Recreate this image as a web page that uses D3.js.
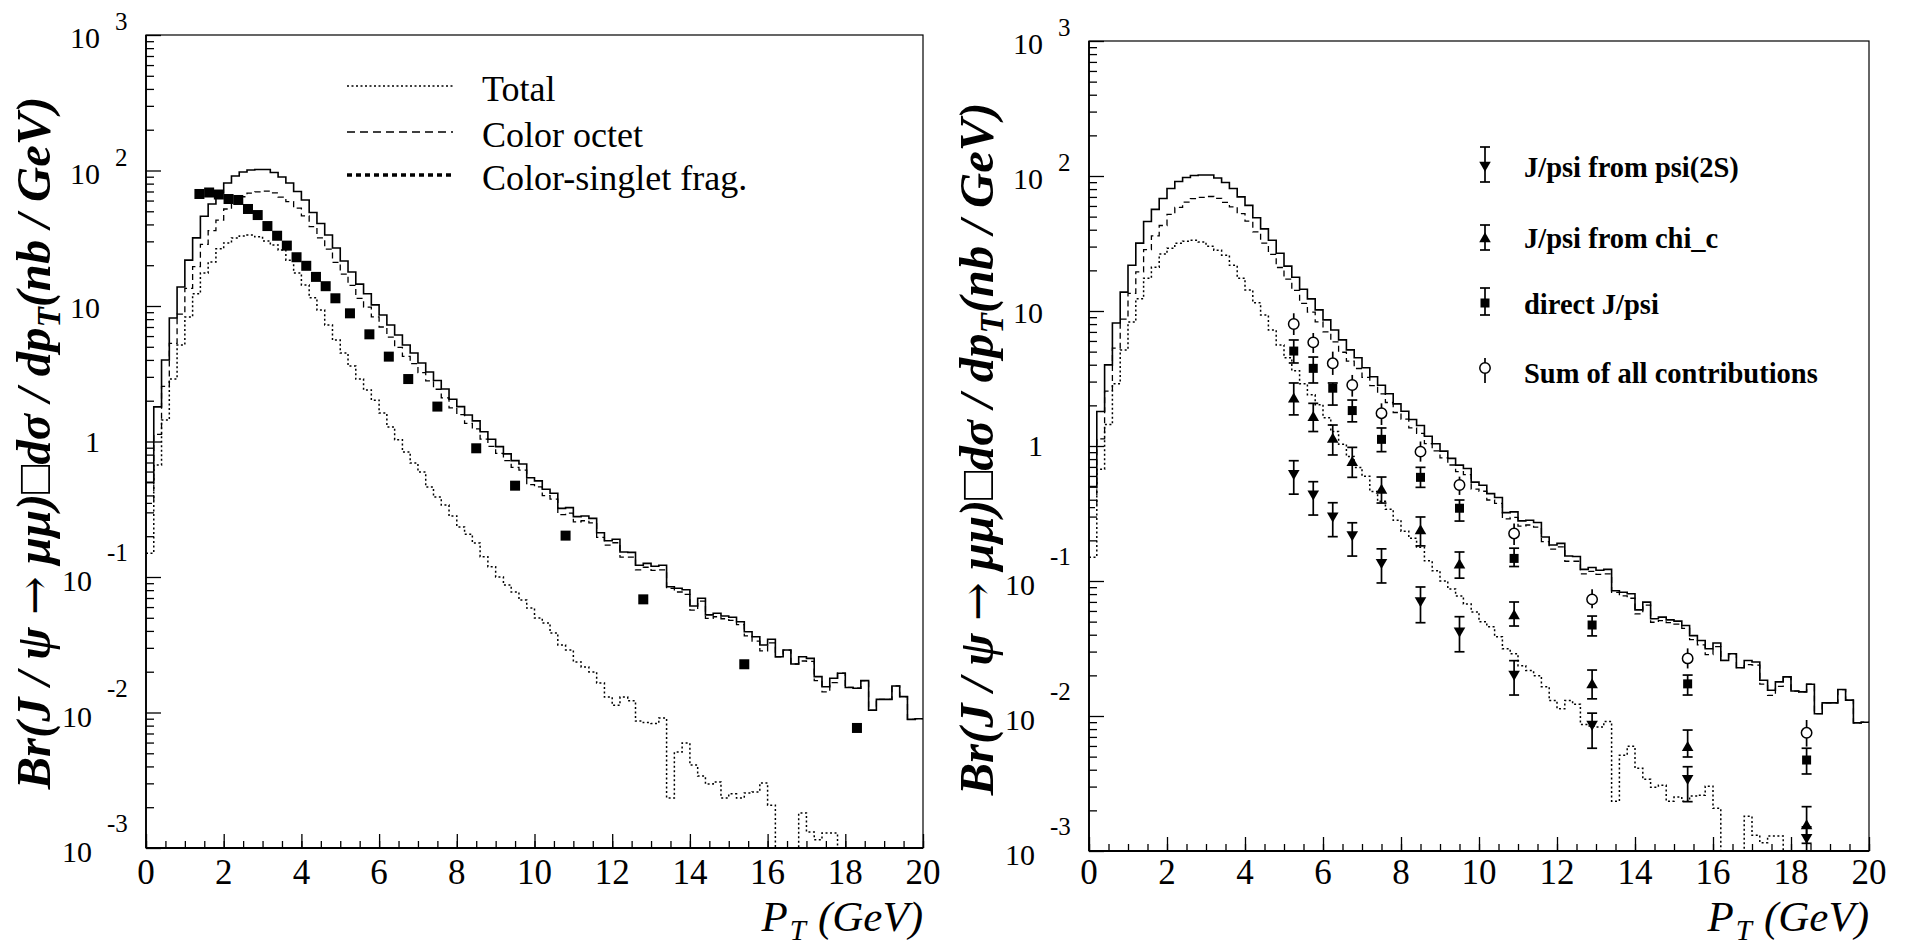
<!DOCTYPE html>
<html>
<head>
<meta charset="utf-8">
<script src="https://cdn.jsdelivr.net/npm/d3@7/dist/d3.min.js"></script>
<style>
  body { margin: 0; background: #fff; }
  text { font-family: "Liberation Serif", "Times New Roman", serif; fill: #000; }
</style>
</head>
<body>
<svg id="chart" width="1905" height="947"></svg>
<script>
// histogram bins: 100 bins of 0.2 GeV from 0 to 20
const binLo = d3.range(100).map(i => i * 0.2);

// solid histogram
const solidHist = [
  0.50, 1.80, 3.99, 8.15, 13.8, 21.8, 31.8, 46.0, 56.6, 68.2,
  80.9, 91.1, 97.5, 100.9, 101.8, 101.8, 96.6, 89.6, 80.9, 70.0,
  60.6, 49.0, 40.6, 33.4, 26.8, 21.5, 17.8, 14.5, 12.3, 10.2,
  8.59, 7.24, 6.11, 5.15, 4.50, 3.80, 3.26, 2.82, 2.44, 2.05,
  1.81, 1.57, 1.42, 1.18, 1.04, 0.916, 0.810, 0.722, 0.682, 0.540,
  0.512, 0.444, 0.415, 0.321, 0.325, 0.279, 0.282, 0.271, 0.212, 0.185,
  0.190, 0.153, 0.152, 0.122, 0.126, 0.120, 0.122, 0.0847, 0.0826, 0.0805,
  0.0611, 0.0697, 0.0525, 0.0540, 0.0515, 0.0504, 0.0468, 0.0394, 0.0362, 0.0315,
  0.0347, 0.0258, 0.0289, 0.0228, 0.0258, 0.0251, 0.0184, 0.0155, 0.0179, 0.0195,
  0.0153, 0.0151, 0.0172, 0.0104, 0.0125, 0.0125, 0.0157, 0.0131, 0.0089, 0.0090
];

// dashed histogram
const dashedHist = [
  0.35, 1.13, 2.55, 5.3, 8.7, 13.5, 19.5, 28.5, 36.0, 43.0,
  52.0, 58.5, 64.0, 68.0, 69.5, 70.5, 68.3, 63.7, 59.0, 52.7,
  46.3, 38.5, 31.8, 26.3, 21.0, 17.2, 14.2, 11.4, 9.8, 8.3,
  7.0, 5.9, 4.95, 4.25, 3.75, 3.22, 2.80, 2.43, 2.10, 1.77,
  1.58, 1.36, 1.24, 1.04, 0.92, 0.816, 0.723, 0.645, 0.614, 0.480,
  0.462, 0.398, 0.376, 0.289, 0.296, 0.255, 0.260, 0.251, 0.196, 0.172,
  0.179, 0.140, 0.140, 0.113, 0.118, 0.112, 0.113, 0.0824, 0.0775, 0.0745,
  0.0570, 0.0663, 0.0495, 0.0509, 0.0492, 0.0479, 0.0445, 0.0368, 0.0336, 0.0285,
  0.0326, 0.0258, 0.0289, 0.0228, 0.0240, 0.0238, 0.0172, 0.0142, 0.0166, 0.0195,
  0.0153, 0.0151, 0.0172, 0.0104, 0.0125, 0.0125, 0.0157, 0.0131, 0.0089, 0.0090
];

// dotted histogram (0 = empty bin)
const dottedHist = [
  0.150, 0.672, 1.44, 2.89, 5.15, 8.29, 12.3, 17.5, 21.1, 26.4,
  29.2, 31.8, 32.9, 33.4, 32.4, 30.2, 28.2, 25.9, 21.8, 17.5,
  14.3, 11.5, 9.34, 7.24, 5.61, 4.50, 3.61, 2.89, 2.40, 2.02,
  1.62, 1.28, 1.03, 0.837, 0.693, 0.596, 0.461, 0.389, 0.340, 0.282,
  0.234, 0.207, 0.178, 0.141, 0.119, 0.100, 0.0873, 0.0774, 0.0676, 0.0590,
  0.0498, 0.0458, 0.0386, 0.0315, 0.0289, 0.0236, 0.0217, 0.0199, 0.0165, 0.0130,
  0.0113, 0.0130, 0.0122, 0.00865, 0.00843, 0.0083, 0.0091, 0.00234, 0.00511, 0.00596,
  0.00410, 0.00340, 0.00297, 0.00307, 0.00234, 0.00251, 0.00234, 0.00255, 0.00259, 0.00302,
  0.00207, 0, 0, 0, 0.00181, 0.00131, 0.00115, 0.00129, 0.00129, 0,
  0, 0, 0, 0, 0, 0, 0, 0, 0, 0
];

// left panel: filled squares
const leftPtX = [1.375, 1.625, 1.875, 2.125, 2.375, 2.625, 2.875, 3.125, 3.375, 3.625,
  3.875, 4.125, 4.375, 4.625, 4.875, 5.25, 5.75, 6.25, 6.75, 7.5, 8.5, 9.5, 10.8, 12.8, 15.4, 18.3];
const leftPtY = [67.1, 68.8, 66.5, 61.6, 60.6, 52.0, 46.9, 38.9, 33.0, 27.9,
  22.9, 19.8, 16.4, 14.0, 11.4, 8.83, 6.18, 4.23, 2.89, 1.81, 0.891, 0.472, 0.202, 0.0684, 0.0227, 0.00769];

// right panel: points with error bars
const rightPtX = [5.25, 5.75, 6.25, 6.75, 7.5, 8.5, 9.5, 10.9, 12.9, 15.35, 18.4];
const psi2sY  = [0.616, 0.434, 0.299, 0.217, 0.135, 0.0703, 0.042, 0.0201, 0.00857, 0.0034, 0.00124];
const psi2sHi = [0.778, 0.544, 0.380, 0.270, 0.173, 0.0903, 0.0544, 0.0257, 0.0105, 0.00421, 0.00151];
const psi2sLo = [0.44, 0.308, 0.213, 0.153, 0.0967, 0.0491, 0.0299, 0.0143, 0.00577, 0.00232, 0.0009];
const chicY  = [2.26, 1.65, 1.14, 0.766, 0.477, 0.239, 0.133, 0.056, 0.0173, 0.00593, 0.00156];
const chicHi = [2.93, 2.07, 1.43, 0.977, 0.589, 0.298, 0.164, 0.0699, 0.0219, 0.00787, 0.00213];
const chicLo = [1.70, 1.28, 0.858, 0.586, 0.378, 0.182, 0.105, 0.0464, 0.0134, 0.00497, 0.00114];
const directY  = [5.05, 3.76, 2.68, 1.83, 1.12, 0.586, 0.346, 0.147, 0.0472, 0.0173, 0.00472];
const directHi = [6.10, 4.56, 2.93, 2.19, 1.36, 0.695, 0.398, 0.175, 0.055, 0.0201, 0.00577];
const directLo = [4.12, 2.93, 2.01, 1.51, 0.908, 0.494, 0.278, 0.128, 0.0392, 0.0143, 0.00372];
const sumY  = [8.01, 5.86, 4.10, 2.83, 1.75, 0.908, 0.514, 0.225, 0.0731, 0.0267, 0.00751];
const sumHi = [9.62, 6.87, 5.0, 3.36, 2.07, 1.08, 0.593, 0.267, 0.0868, 0.0317, 0.00934];
const sumLo = [6.64, 4.89, 3.36, 2.32, 1.43, 0.766, 0.434, 0.185, 0.0628, 0.0225, 0.00593];

// axes
const xMajor = [0, 2, 4, 6, 8, 10, 12, 14, 16, 18, 20];
const xMinor = d3.range(0, 20.01, 0.5);
const yDecades = [-3, -2, -1, 0, 1, 2, 3];

const leftLegend = ['Total', 'Color octet', 'Color-singlet frag.'];
const rightLegend = ['J/psi from psi(2S)', 'J/psi from chi_c', 'direct J/psi', 'Sum of all contributions'];

const svg = d3.select('#chart');

const panels = [
    { left: 146, right: 923, top: 35, bottom: 848, titleX: 50, titleY: 443 },
    { left: 1089, right: 1869, top: 41, bottom: 851, titleX: 993, titleY: 449 }
];

const yMinor = [];
yDecades.slice(0, -1).forEach(function (n) {
    for (let k = 2; k <= 9; k++) yMinor.push(k * Math.pow(10, n));
});

function drawPanel(p, id) {
    const x = d3.scaleLinear().domain([0, 20]).range([p.left, p.right]);
    const y = d3.scaleLog().domain([1e-3, 1e3]).range([p.bottom, p.top]);
    const yv = v => y(Math.max(v, 1e-3));
    const g = svg.append('g');

    g.append('clipPath').attr('id', 'clip' + id)
        .append('rect')
        .attr('x', p.left).attr('y', p.top)
        .attr('width', p.right - p.left).attr('height', p.bottom - p.top);

    // ticks, drawn inside the frame
    function ticks(axis, tr, vals, size) {
        g.append('g').attr('transform', tr)
            .call(axis.tickValues(vals).tickSize(size).tickFormat(''))
            .call(a => a.select('.domain').remove())
            .selectAll('line').attr('stroke-width', 1.3);
    }
    ticks(d3.axisRight(y), 'translate(' + p.left + ',0)', yMinor, 8);
    ticks(d3.axisRight(y), 'translate(' + p.left + ',0)', yDecades.map(n => Math.pow(10, n)), 15);
    ticks(d3.axisTop(x), 'translate(0,' + p.bottom + ')', xMinor, 7);
    ticks(d3.axisTop(x), 'translate(0,' + p.bottom + ')', xMajor, 14);

    // frame
    g.append('rect')
        .attr('x', p.left).attr('y', p.top)
        .attr('width', p.right - p.left).attr('height', p.bottom - p.top)
        .attr('fill', 'none').attr('stroke', '#000').attr('stroke-width', 1.2);
    g.append('line').attr('x1', p.left).attr('x2', p.left).attr('y1', p.top).attr('y2', p.bottom)
        .attr('stroke', '#000').attr('stroke-width', 1.8);
    g.append('line').attr('x1', p.left).attr('x2', p.right).attr('y1', p.bottom).attr('y2', p.bottom)
        .attr('stroke', '#000').attr('stroke-width', 2.2);

    // x labels
    g.selectAll('.xl').data(xMajor).enter().append('text')
        .attr('x', d => x(d)).attr('y', 884)
        .attr('text-anchor', 'middle').attr('font-size', 35)
        .text(d => d);

    // y labels, ROOT style 10^n
    yDecades.forEach(function (n) {
        const ty = y(Math.pow(10, n));
        if (n === 0) {
            g.append('text').attr('x', p.left - 46).attr('y', ty + 10)
                .attr('text-anchor', 'end').attr('font-size', 30).text('1');
        } else if (n === 1) {
            g.append('text').attr('x', p.left - 46).attr('y', ty + 12)
                .attr('text-anchor', 'end').attr('font-size', 30).text('10');
        } else if (n > 1) {
            g.append('text').attr('x', p.left - 46).attr('y', ty + 13)
                .attr('text-anchor', 'end').attr('font-size', 30).text('10');
            g.append('text').attr('x', p.left - 31).attr('y', ty - 5)
                .attr('font-size', 25).text(n);
        } else {
            g.append('text').attr('x', p.left - 54).attr('y', ty + 14)
                .attr('text-anchor', 'end').attr('font-size', 30).text('10');
            g.append('text').attr('x', p.left - 39).attr('y', ty - 16)
                .attr('font-size', 25).text(n);
        }
    });

    // y title, scaled to the length seen in the figure
    const yt = g.append('text')
        .attr('transform', 'translate(' + p.titleX + ',' + p.titleY + ') rotate(-90)')
        .attr('text-anchor', 'middle').attr('font-style', 'italic').attr('font-weight', 'bold');
    const a = yt.append('tspan').text('Br(J / ψ ');
    const arrow = yt.append('tspan').style('font-family', '"DejaVu Serif"').style('font-weight', 'normal').text('→');
    const b = yt.append('tspan').text(' μμ)□dσ / dp');
    const sub = yt.append('tspan').attr('dy', 10).text('T');
    const c = yt.append('tspan').attr('dy', -10).text('(nb / GeV)');
    function setSize(fs) {
        [a, b, c].forEach(t => t.attr('font-size', fs));
        arrow.attr('font-size', fs * 0.95);
        sub.attr('font-size', fs * 0.68);
    }
    setSize(50);
    const len = yt.node().getComputedTextLength();
    setSize(50 * 693 / len);

    const xt = g.append('text')
        .attr('x', p.right).attr('y', 931)
        .attr('text-anchor', 'end').attr('font-style', 'italic').attr('font-size', 43);
    xt.append('tspan').text('P');
    xt.append('tspan').attr('font-size', 29).attr('dy', 9).attr('dx', 2).text('T');
    xt.append('tspan').attr('dy', -9).attr('dx', 12).text('(GeV)');

    // histograms
    const plot = g.append('g').attr('clip-path', 'url(#clip' + id + ')');
    const step = d3.line().x(d => x(d[0])).y(d => yv(d[1])).curve(d3.curveStepAfter);
    function hist(vals, dash, w) {
        const pts = vals.map((v, i) => [binLo[i], v]);
        pts.push([20, vals[vals.length - 1]]);
        plot.append('path').attr('d', step(pts))
            .attr('fill', 'none').attr('stroke', '#000')
            .attr('stroke-width', w).attr('stroke-dasharray', dash);
    }
    hist(dottedHist, '2,2.5', 1.5);
    hist(dashedHist, '6,4', 1.3);
    hist(solidHist, null, 1.6);

    return { g: g, plot: plot, x: x, y: yv };
}

const L = drawPanel(panels[0], 0);
const R = drawPanel(panels[1], 1);

// left panel squares
L.plot.selectAll('.sq').data(leftPtX).enter().append('rect')
    .attr('x', (d) => L.x(d) - 5).attr('y', (d, i) => L.y(leftPtY[i]) - 5)
    .attr('width', 10).attr('height', 10).attr('fill', '#000');

// left legend
const legStyles = [['2,2.5', 1.5], ['8,5', 1.3], ['5,4', 3.5]];
const legY = [86, 132, 175];
leftLegend.forEach(function (lab, i) {
    svg.append('line').attr('x1', 347).attr('x2', 453).attr('y1', legY[i]).attr('y2', legY[i])
        .attr('stroke', '#000').attr('stroke-width', legStyles[i][1])
        .attr('stroke-dasharray', legStyles[i][0]);
    svg.append('text').attr('x', 482).attr('y', legY[i] + 15).attr('font-size', 36).text(lab);
});

// right panel points with error bars
function errBars(target, xs, ys, lo, hi, caps) {
    xs.forEach(function (d, i) {
        const cx = R.x(d);
        target.append('line').attr('x1', cx).attr('x2', cx)
            .attr('y1', R.y(lo[i])).attr('y2', R.y(hi[i]))
            .attr('stroke', '#000').attr('stroke-width', 1.7);
        if (caps) {
            [lo[i], hi[i]].forEach(function (v) {
                target.append('line').attr('x1', cx - 5).attr('x2', cx + 5)
                    .attr('y1', R.y(v)).attr('y2', R.y(v))
                    .attr('stroke', '#000').attr('stroke-width', 1.7);
            });
        }
    });
}
const triUp = d3.symbol(d3.symbolTriangle, 58);
function marker(target, kind, cx, cy) {
    if (kind === 'down') {
        target.append('path').attr('d', triUp())
            .attr('transform', 'translate(' + cx + ',' + (cy - 1) + ') rotate(180)').attr('fill', '#000');
    } else if (kind === 'up') {
        target.append('path').attr('d', triUp())
            .attr('transform', 'translate(' + cx + ',' + (cy + 1) + ')').attr('fill', '#000');
    } else if (kind === 'square') {
        target.append('rect').attr('x', cx - 4.5).attr('y', cy - 4.5)
            .attr('width', 9).attr('height', 9).attr('fill', '#000');
    } else {
        target.append('circle').attr('cx', cx).attr('cy', cy).attr('r', 5.2)
            .attr('fill', '#fff').attr('stroke', '#000').attr('stroke-width', 1.5);
    }
}

const rightSeries = [
    [psi2sY, psi2sLo, psi2sHi, 'down', true],
    [chicY, chicLo, chicHi, 'up', true],
    [directY, directLo, directHi, 'square', true],
    [sumY, sumLo, sumHi, 'circle', false]
];
rightSeries.forEach(function (s) {
    errBars(R.plot, rightPtX, s[0], s[1], s[2], s[4]);
});
rightSeries.forEach(function (s) {
    rightPtX.forEach(function (d, i) {
        marker(R.plot, s[3], R.x(d), R.y(s[0][i]));
    });
});

// right legend
const rlegY = [166, 238, 303, 368];
const rlegBar = [[147, 182], [225, 250], [288, 315], [358, 383]];
rightLegend.forEach(function (lab, i) {
    const s = rightSeries[i];
    const lx = 1485;
    svg.append('line').attr('x1', lx).attr('x2', lx)
        .attr('y1', rlegBar[i][0]).attr('y2', rlegBar[i][1])
        .attr('stroke', '#000').attr('stroke-width', 1.7);
    if (s[4]) {
        rlegBar[i].forEach(function (v) {
            svg.append('line').attr('x1', lx - 5).attr('x2', lx + 5).attr('y1', v).attr('y2', v)
                .attr('stroke', '#000').attr('stroke-width', 1.7);
        });
    }
    marker(svg, s[3], lx, rlegY[i]);
    svg.append('text').attr('x', 1524).attr('y', [177, 248, 314, 383][i])
        .attr('font-size', 28.5).attr('font-weight', 'bold')
        .text(lab);
});
</script>
</body>
</html>
